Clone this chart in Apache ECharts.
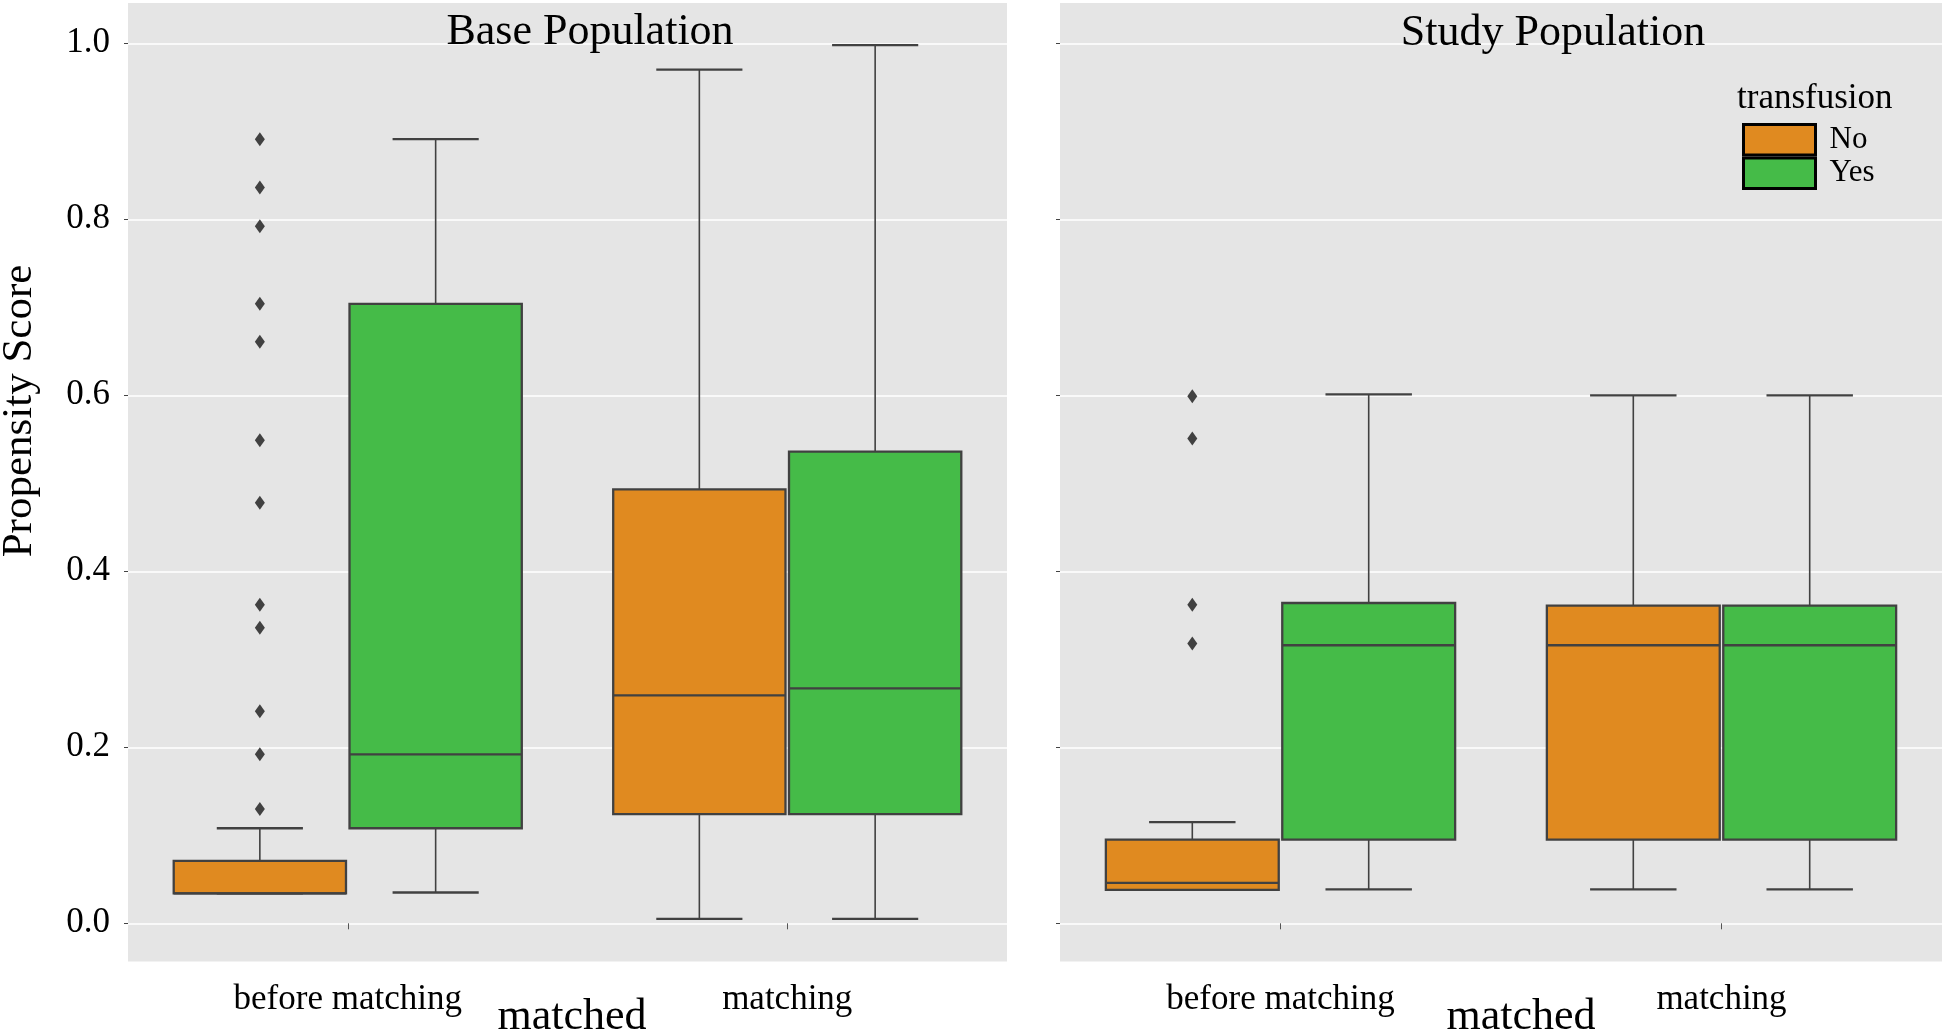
<!DOCTYPE html>
<html>
<head>
<meta charset="utf-8">
<script src="https://cdn.jsdelivr.net/npm/echarts@6/dist/echarts.min.js"></script>
<style>
html,body{margin:0;padding:0;background:#fff;}
#chart{width:1944px;height:1031px;}
</style>
</head>
<body>
<div id="chart"></div>
<script>
// ---------- data ----------
const categories = ['before matching', 'matching'];
const yTicks = [0, 0.2, 0.4, 0.6, 0.8, 1.0];
const panelTitles = ['Base Population', 'Study Population'];
const groups = ['No', 'Yes'];
// each box: [lower whisker, Q1, median, Q3, upper whisker]
const baseNo = [[0.034, 0.034, 0.034, 0.071, 0.108], [0.005, 0.124, 0.259, 0.493, 0.970]];
const baseYes = [[0.035, 0.108, 0.192, 0.704, 0.891], [0.005, 0.124, 0.267, 0.536, 0.998]];
const studyNo = [[0.038, 0.038, 0.046, 0.095, 0.115], [0.0385, 0.095, 0.316, 0.361, 0.600]];
const studyYes = [[0.0385, 0.095, 0.316, 0.364, 0.601], [0.0385, 0.095, 0.316, 0.361, 0.600]];
// outliers of the "before matching" / No group
const baseNoOutliers = [0.891, 0.836, 0.792, 0.704, 0.661, 0.549, 0.478, 0.362, 0.336, 0.241, 0.192, 0.130];
const studyNoOutliers = [0.599, 0.551, 0.362, 0.318];

// ---------- style ----------
const COLORS = {No: '#E08A20', Yes: '#45BB48'};
const LINE = '#414141';
const FONT = '"Liberation Serif", "Times New Roman", serif';

function boxData(arr) {
  return arr.map((b, i) => [i].concat(b));
}
function outlierData(arr, cat) {
  return arr.map(v => [cat, v]);
}

function boxRender(sign) {
  return function (params, api) {
    const cat = api.value(0);
    const band = api.size([1, 0])[0];
    const cx = api.coord([cat, 0])[0] + sign * band * 0.2;
    const w = band * 0.392;
    const capW = w / 2;
    const y = [1, 2, 3, 4, 5].map(k => api.coord([cat, api.value(k)])[1]);
    const fill = api.visual('color');
    const children = [];
    children.push({type: 'line', shape: {x1: cx, y1: y[0], x2: cx, y2: y[1]}, style: {stroke: LINE, lineWidth: 1.6}});
    children.push({type: 'line', shape: {x1: cx, y1: y[3], x2: cx, y2: y[4]}, style: {stroke: LINE, lineWidth: 1.6}});
    children.push({type: 'line', shape: {x1: cx - capW / 2, y1: y[0], x2: cx + capW / 2, y2: y[0]}, style: {stroke: LINE, lineWidth: 2.3}});
    children.push({type: 'line', shape: {x1: cx - capW / 2, y1: y[4], x2: cx + capW / 2, y2: y[4]}, style: {stroke: LINE, lineWidth: 2.3}});
    children.push({type: 'rect', shape: {x: cx - w / 2, y: y[3], width: w, height: y[1] - y[3]}, style: {fill: fill, stroke: LINE, lineWidth: 2.3}});
    children.push({type: 'line', shape: {x1: cx - w / 2, y1: y[2], x2: cx + w / 2, y2: y[2]}, style: {stroke: LINE, lineWidth: 2.3}});
    return {type: 'group', children: children};
  };
}

function outlierRender(sign) {
  return function (params, api) {
    const cat = api.value(0);
    const band = api.size([1, 0])[0];
    const p = api.coord([cat, api.value(1)]);
    const cx = p[0] + sign * band * 0.2;
    const cy = p[1];
    const hw = 5, hh = 7;
    return {
      type: 'polygon',
      shape: {points: [[cx, cy - hh], [cx + hw, cy], [cx, cy + hh], [cx - hw, cy]]},
      style: {fill: LINE}
    };
  };
}

const chart = echarts.init(document.getElementById('chart'), null, {renderer: 'canvas'});

const grids = [
  {left: 128, top: 3, width: 879, height: 958.5, show: true, backgroundColor: '#E5E5E5', borderWidth: 0, containLabel: false, outerBoundsMode: 'none'},
  {left: 1060, top: 3, width: 882, height: 958.5, show: true, backgroundColor: '#E5E5E5', borderWidth: 0, containLabel: false, outerBoundsMode: 'none'}
];

function xAxis(gi, padLeft) {
  return {
    type: 'category', gridIndex: gi, data: categories,
    axisLine: {show: false},
    axisTick: {show: true, alignWithLabel: true, length: 6, lineStyle: {color: '#555', width: 1}},
    axisLabel: {fontSize: 35, color: '#000', fontFamily: FONT, margin: 21},
    splitLine: {show: false},
    name: 'matched', nameLocation: 'middle', nameGap: 34, nameMoveOverlap: false,
    nameTextStyle: {fontSize: 44, color: '#000', fontFamily: FONT, padding: [0, 0, 0, padLeft]}
  };
}
function yAxis(gi, showLabels) {
  return {
    type: 'value', gridIndex: gi, min: -0.0434, max: 1.0458,
    axisLine: {show: false},
    axisTick: {show: true, length: 4, lineStyle: {color: '#444', width: 1}, customValues: yTicks},
    axisLabel: {show: showLabels, customValues: yTicks, formatter: v => v.toFixed(1),
      fontSize: 35, color: '#000', fontFamily: FONT, margin: 18},
    splitLine: {show: true, lineStyle: {color: '#fff', width: 1.5}}
  };
}

const series = [];
const panels = [[baseNo, baseYes, baseNoOutliers], [studyNo, studyYes, studyNoOutliers]];
panels.forEach((pd, gi) => {
  [0, 1].forEach(k => {
    const name = groups[k];
    series.push({
      type: 'custom', name: name, xAxisIndex: gi, yAxisIndex: gi,
      renderItem: boxRender(k === 0 ? -1 : 1),
      itemStyle: {color: COLORS[name]},
      encode: {x: 0, y: [1, 2, 3, 4, 5]},
      data: boxData(pd[k]),
      z: 3
    });
  });
  series.push({
    type: 'custom', name: 'No', xAxisIndex: gi, yAxisIndex: gi,
    renderItem: outlierRender(-1),
    itemStyle: {color: COLORS.No},
    encode: {x: 0, y: 1},
    data: outlierData(pd[2], 0),
    z: 4
  });
});

const option = {
  backgroundColor: '#fff',
  animation: false,
  grid: grids,
  xAxis: [xAxis(0, 9), xAxis(1, 40)],
  yAxis: [yAxis(0, true), yAxis(1, false)],
  legend: {
    left: 1742, top: 123, orient: 'vertical', padding: 0, itemGap: 0,
    itemWidth: 72, itemHeight: 30.5, selectedMode: false,
    textStyle: {fontSize: 31, color: '#000', fontFamily: FONT, lineHeight: 30, padding: [0, 0, 0, 9]},
    data: groups.map(g => ({name: g, icon: 'rect', itemStyle: {color: COLORS[g], borderColor: '#000', borderWidth: 3}}))
  },
  graphic: [
    {type: 'text', x: 590, y: 32, style: {text: panelTitles[0], font: '44px ' + FONT, fill: '#000', align: 'center', verticalAlign: 'middle'}, z: 10},
    {type: 'text', x: 1553, y: 33, style: {text: panelTitles[1], font: '44px ' + FONT, fill: '#000', align: 'center', verticalAlign: 'middle'}, z: 10},
    {type: 'text', x: 20, y: 411, rotation: Math.PI / 2, style: {text: 'Propensity Score', font: '43px ' + FONT, fill: '#000', align: 'center', verticalAlign: 'middle'}, z: 10},
    {type: 'text', x: 1737, y: 99, style: {text: 'transfusion', font: '35px ' + FONT, fill: '#000', align: 'left', verticalAlign: 'middle'}, z: 10}
  ],
  series: series
};
chart.setOption(option);
</script>
</body>
</html>
